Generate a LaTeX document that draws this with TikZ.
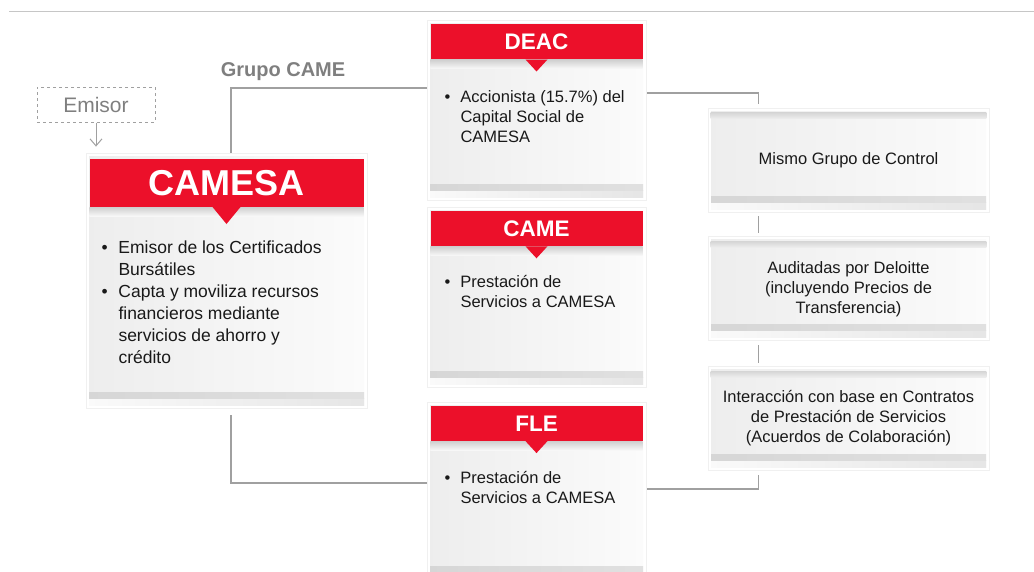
\documentclass[tikz,border=0pt]{standalone}
\usepackage{fontspec}
\setmainfont{Liberation Sans}
\usetikzlibrary{positioning,backgrounds,arrows.meta}
\definecolor{camered}{RGB}{236,16,42}
\definecolor{linegray}{RGB}{160,160,160}
\definecolor{labelgray}{RGB}{127,127,127}
\tikzset{
  panel/.style={draw=gray!12, fill=white, inner sep=0pt, line width=0.8pt,
    path picture={
      \shade[left color=gray!14, right color=gray!3]
        ([xshift=3pt,yshift=-3pt]path picture bounding box.north west) rectangle ([xshift=-3pt,yshift=3pt]path picture bounding box.south east);
      \shade[left color=gray!4, right color=gray!20]
        ([xshift=3pt,yshift=3pt]path picture bounding box.south west) rectangle ([xshift=-3pt,yshift=10pt]path picture bounding box.south east);
      \shade[left color=gray!32, right color=gray!24]
        ([xshift=3pt,yshift=10pt]path picture bounding box.south west) rectangle ([xshift=-3pt,yshift=16pt]path picture bounding box.south east);
    }},
  card/.style={panel, minimum width=219pt, minimum height=180pt},
  note/.style={panel, minimum width=281pt, minimum height=104pt, align=center, text=black!90,
    font=\fontsize{16.5}{20}\selectfont, preaction={draw=white, line width=8pt}},
  head/.style={fill=camered, text=white, font=\bfseries\fontsize{22.5}{24}\selectfont,
    minimum width=212pt, minimum height=35pt, inner sep=0pt},
  bullets/.style={inner sep=0pt, anchor=north west, text=black!90, font=\fontsize{16.5}{20}\selectfont},
  link/.style={draw=linegray, line width=1.5pt},
}

\begin{document}
\begin{tikzpicture}[x=1pt, y=-1pt]
    \useasboundingbox (0,0) rectangle (1034,571);
    \draw[gray!45, line width=0.8pt] (9,11) -- (1034,11);

    \node[draw=linegray, dashed, line width=1pt, minimum width=118pt, minimum height=35pt,
          text=labelgray, font=\fontsize{21}{24}\selectfont] (emisor) at (96,104.5) {Emisor};
    \node[text=labelgray, font=\bfseries\fontsize{20}{24}\selectfont] (grupo) at (283,72) {Grupo CAME};

    % issuer
    \node[panel, minimum width=281pt, minimum height=255pt] (camesa) at (226.5,280.5) {};
    \node[head, minimum width=274pt, minimum height=48pt, font=\bfseries\fontsize{36}{40}\selectfont,
          below=6pt of camesa.north] (camesah) {CAMESA};

    % group companies
    \node[card] (deac) at (536.5,110.5) {};
    \node[card, below=6pt of deac] (came) {};
    \node[card, below=14pt of came] (fle) {};
    \node[head, below=4pt of deac.north] (deach) {DEAC};
    \node[head, below=4pt of came.north] (cameh) {CAME};
    \node[head, below=4pt of fle.north] (fleh) {FLE};

    \foreach \h/\w/\d in {camesah/14/17, deach/11/12, cameh/11/12, fleh/11/12} {
        \shade[top color=gray!38, bottom color=gray!6] (\h.south west) rectangle ([yshift=-9pt]\h.south east);
        \fill[camered] ([xshift=-\w pt]\h.south) -- ([yshift=-\d pt]\h.south) -- ([xshift=\w pt]\h.south) -- cycle;
    }

    \node[bullets, font=\fontsize{17.5}{22}\selectfont, below right=31pt and 12pt of camesah.south west] (camesat) {%
        \begin{tabular}{@{}p{17pt}@{}l@{}}
        \textbullet & Emisor de los Certificados\\
                    & Bursátiles\\
        \textbullet & Capta y moviliza recursos\\
                    & financieros mediante\\
                    & servicios de ahorro y\\
                    & crédito
        \end{tabular}};
    \node[bullets, below right=29pt and 14pt of deach.south west] (deact) {%
        \begin{tabular}{@{}p{16pt}@{}l@{}}
        \textbullet & Accionista (15.7\%) del\\
                    & Capital Social de\\
                    & CAMESA
        \end{tabular}};
    \node[bullets, below right=27pt and 14pt of cameh.south west] (camet) {%
        \begin{tabular}{@{}p{16pt}@{}l@{}}
        \textbullet & Prestación de\\
                    & Servicios a CAMESA
        \end{tabular}};
    \node[bullets, below right=28pt and 14pt of fleh.south west] (flet) {%
        \begin{tabular}{@{}p{16pt}@{}l@{}}
        \textbullet & Prestación de\\
                    & Servicios a CAMESA
        \end{tabular}};

    % common traits
    \node[note] (mismo) at (848.5,160) {Mismo Grupo de Control};
    \node[note, below=24pt of mismo] (audit) {Auditadas por Deloitte\\(incluyendo Precios de\\Transferencia)};
    \node[note, below=25pt of audit] (inter) {Interacción con base en Contratos\\de Prestación de Servicios\\(Acuerdos de Colaboración)};
    \foreach \n in {mismo, audit, inter}
        \shade[top color=gray!32, bottom color=gray!14] ([xshift=3pt,yshift=-5pt]\n.north west) rectangle ([xshift=-3pt,yshift=-11pt]\n.north east);

    \coordinate (spine) at ([xshift=51pt]mismo.west);

    \begin{scope}[on background layer]
        \draw[link] ([xshift=4.5pt]camesa.north) |- ([yshift=22.5pt]deac.west);
        \draw[link, shorten <=7pt] ([xshift=4.5pt]camesa.south) |- ([yshift=9pt]fle.west);
        \draw[link] ([yshift=17.5pt]deac.east) -| (spine) |- ([yshift=3pt]fle.east);
    \end{scope}

    \draw[linegray, line width=1pt, shorten >=6pt, -{Straight Barb[length=7pt,width=12pt]}]
        (emisor.south) -- (emisor.south |- camesa.north);
\end{tikzpicture}
\end{document}
